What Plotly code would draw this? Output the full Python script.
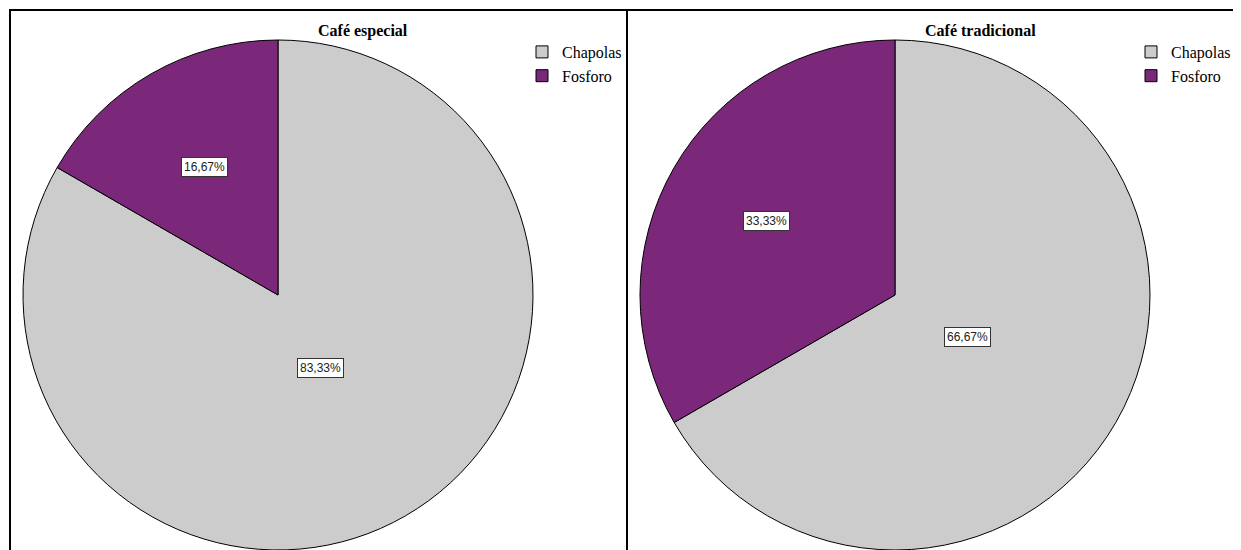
import math
import plotly.graph_objects as go

# ---- data ----
categories = ["Chapolas", "Fosforo"]
counts_especial = [5, 1]
counts_tradicional = [4, 2]
panel_titles = ["Café especial", "Café tradicional"]
colors = ["#CCCCCC", "#7B287A"]

# ---- layout constants (pixels, in screenshot coordinates) ----
OFF = 8  # default page body margin
W, H = 1241 - OFF, 550 - OFF
R = 255
centers = [(278, 295), (895, 295)]
title_x = [363, 980]
legend_x = [522, 1131]
panels = [(10, 627), (627, 1260)]


def px_x(x):
    return (x - OFF) / W


def px_y(y):
    return (H - (y - OFF)) / H


fig = go.Figure()
annotations = []
shapes = []

for i, (counts, title) in enumerate(zip([counts_especial, counts_tradicional], panel_titles)):
    cx, cy = centers[i]
    total = sum(counts)
    pct = [c / total * 100 for c in counts]
    # zero-width space keeps the two pies' legend entries distinct so each panel gets its own legend
    labels = categories if i == 0 else [c + "\u200b" for c in categories]
    fig.add_trace(go.Pie(
        labels=labels,
        values=counts,
        sort=False,
        direction="clockwise",
        rotation=0,
        textinfo="none",
        hoverinfo="label+percent",
        marker=dict(colors=colors, line=dict(color="#000000", width=1)),
        domain=dict(x=[px_x(cx - R), px_x(cx + R)],
                    y=[max(0, px_y(cy + R)), min(1, px_y(cy - R))]),
        legend="legend" if i == 0 else "legend2",
        showlegend=True,
    ))
    # value labels at mid-angle of each slice
    start = 0.0
    for p in pct:
        ang = start + p / 100 * 360 / 2
        start += p / 100 * 360
        frac = 0.58 if p < 50 else 0.33
        lx = cx + frac * R * math.sin(math.radians(ang))
        ly = cy - frac * R * math.cos(math.radians(ang))
        annotations.append(dict(
            x=px_x(lx), y=px_y(ly), xref="paper", yref="paper",
            xanchor="center", yanchor="middle",
            text=f"{p:.2f}".replace(".", ",") + "%",
            showarrow=False,
            font=dict(family="Liberation Sans, Arial", size=12, color="#222222"),
            bgcolor="#FFFFFF", bordercolor="#333333", borderwidth=1, borderpad=2,
        ))
    annotations.append(dict(
        x=px_x(title_x[i]), y=px_y(31), xref="paper", yref="paper",
        xanchor="center", yanchor="middle",
        text=f"<b>{title}</b>", showarrow=False,
        font=dict(family="Liberation Serif, Times New Roman", size=16, color="#000000"),
    ))
    x0, x1 = panels[i]
    shapes.append(dict(type="rect", xref="paper", yref="paper",
                       x0=px_x(x0), x1=px_x(x1), y0=-0.2, y1=px_y(10),
                       line=dict(color="#000000", width=2)))

legend_common = dict(
    font=dict(family="Liberation Serif, Times New Roman", size=16, color="#000000"),
    bgcolor="rgba(0,0,0,0)", borderwidth=0,
    xanchor="left", yanchor="top", traceorder="normal",
    itemclick=False, itemdoubleclick=False, tracegroupgap=0,
)

fig.update_layout(
    width=W, height=H,
    margin=dict(l=0, r=0, t=0, b=0),
    paper_bgcolor="#FFFFFF",
    plot_bgcolor="#FFFFFF",
    annotations=annotations,
    shapes=shapes,
    legend=dict(x=px_x(legend_x[0]), y=px_y(35), **legend_common),
    legend2=dict(x=px_x(legend_x[1]), y=px_y(35), **legend_common),
)

fig.write_html("out.html")
